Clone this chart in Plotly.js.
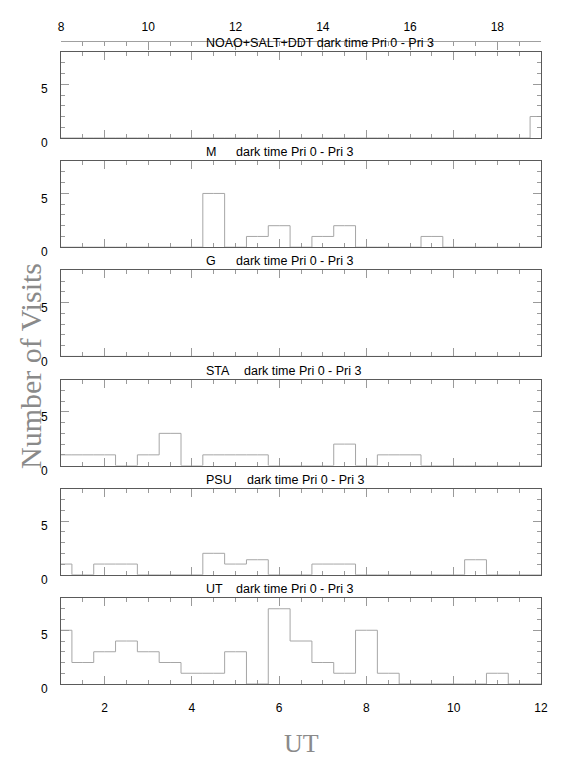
<!DOCTYPE html>
<html>
<head>
<meta charset="utf-8">
<script src="https://cdn.plot.ly/plotly-3.0.1.min.js"></script>
<style>html,body{margin:0;padding:0;background:#fff;}#chart{width:572px;height:762px;}</style>
</head>
<body>
<div id="chart"></div>
<script>
// Bin centres (UT hours), bins are 0.5 h wide
const binCenters = [1.0,1.5,2.0,2.5,3.0,3.5,4.0,4.5,5.0,5.5,6.0,6.5,7.0,7.5,8.0,8.5,9.0,9.5,10.0,10.5,11.0,11.5,12.0];

// Panel labels (top to bottom)
const panelLabels = ["NOAO+SALT+DDT", "M", "G", "STA", "PSU", "UT"];
const panelSuffix = "dark time Pri 0 - Pri 3";

// Number of visits per bin, one array per panel
const noaoVisits = [0,0,0,0,0,0,0,0,0,0,0,0,0,0,0,0,0,0,0,0,0,0,2];
const mVisits    = [0,0,0,0,0,0,0,5,0,1,2,0,1,2,0,0,0,1,0,0,0,0,0];
const gVisits    = [0,0,0,0,0,0,0,0,0,0,0,0,0,0,0,0,0,0,0,0,0,0,0];
const staVisits  = [1,1,1,0,1,3,0,1,1,1,0,0,0,2,0,1,1,0,0,0,0,0,0];
const psuVisits  = [1,0,1,1,0,0,0,2,1,1.4,0,0,1,1,0,0,0,0,0,1.4,0,0,0];
const utVisits   = [5,2,3,4,3,2,1,1,3,0,7,4,2,1,5,1,0,0,0,0,1,0,0];

// Axis ranges / ticks
const utRange = [1, 12];
const localRange = [8, 19];
const yRange = [0, 8];
const yTickVals = [0, 5];
const utTickVals = [2, 4, 6, 8, 10, 12];
const localTickVals = [8, 10, 12, 14, 16, 18];

const series = [noaoVisits, mVisits, gVisits, staVisits, psuVisits, utVisits];

// ---- geometry (pixels) ----
const W = 572, H = 762;
const mL = 61, mR = 31, mT = 41, mB = 78;
const plotH = H - mT - mB;
const plotBottomPx = H - mB;
const panelH = 86, panelStep = 109.2;
const toPaperY = px => (plotBottomPx - px) / plotH;
const toPaperX = px => (px - mL) / (W - mL - mR);

const frameColor = '#5a5a5a';
const tickColor = '#9a9a9a';
const stepColor = '#a6a6a6';
const tickFont = {family: 'Liberation Sans, Arial, sans-serif', size: 12, color: '#000'};
const titleFont = {family: 'Liberation Sans, Arial, sans-serif', size: 12.5, color: '#000'};

const traces = [];
const layout = {
  width: W, height: H,
  margin: {l: mL, r: mR, t: mT, b: mB, pad: 0},
  paper_bgcolor: '#fff', plot_bgcolor: '#fff',
  showlegend: false,
  annotations: [],
  font: tickFont
};

// left edge (px) of the suffix text per panel
const labelX = 203.5;
const suffixX = [null, 234.4, 234.4, 242.4, 245.3, 234.4];

for (let k = 0; k < 6; k++) {
  const n = 6 - k; // axis index; bottom panel is x/y (1)
  const xid = n === 1 ? 'x' : 'x' + n;
  const yid = n === 1 ? 'y' : 'y' + n;
  const xkey = n === 1 ? 'xaxis' : 'xaxis' + n;
  const ykey = n === 1 ? 'yaxis' : 'yaxis' + n;
  const bottomPx = plotBottomPx - (5 - k) * panelStep;
  const topPx = bottomPx - panelH;
  const dom = [toPaperY(bottomPx), toPaperY(topPx)];

  traces.push({
    type: 'scatter', mode: 'lines',
    x: binCenters, y: series[k],
    xaxis: xid, yaxis: yid,
    line: {shape: 'hvh', color: stepColor, width: 1},
    hoverinfo: 'skip'
  });

  layout[xkey] = {
    domain: [0, 1], anchor: yid, range: utRange,
    showgrid: false, zeroline: false,
    showline: true, linecolor: frameColor, linewidth: 1, mirror: 'ticks',
    ticks: 'inside', ticklen: 8, tickcolor: tickColor, tickwidth: 1,
    tickmode: 'array', tickvals: utTickVals,
    showticklabels: k === 5,
    ticklabelstandoff: 13,
    tickfont: tickFont,
    minor: {ticks: 'inside', dtick: 0.5, tick0: 0, ticklen: 4, tickcolor: tickColor, showgrid: false}
  };
  layout[ykey] = {
    domain: dom, anchor: xid, range: yRange,
    showgrid: false, zeroline: false,
    showline: true, linecolor: frameColor, linewidth: 1, mirror: 'ticks',
    ticks: 'inside', ticklen: 8, tickcolor: tickColor, tickwidth: 1,
    tickmode: 'array', tickvals: yTickVals,
    ticklabelshift: 5, ticklabelstandoff: 10,
    tickfont: tickFont,
    minor: {ticks: 'inside', dtick: 1, tick0: 0, ticklen: 4, tickcolor: tickColor, showgrid: false}
  };

  // panel title
  layout.annotations.push({
    xref: 'paper', yref: 'paper',
    x: toPaperX(labelX), y: toPaperY(topPx),
    xanchor: 'left', yanchor: 'bottom', yshift: 0,
    text: k === 0 ? panelLabels[k] + ' ' + panelSuffix : panelLabels[k],
    showarrow: false, font: titleFont
  });
  if (k > 0) {
    layout.annotations.push({
      xref: 'paper', yref: 'paper',
      x: toPaperX(suffixX[k]), y: toPaperY(topPx),
      xanchor: 'left', yanchor: 'bottom', yshift: 0,
      text: panelSuffix,
      showarrow: false, font: titleFont
    });
  }
}

// top axis in local time
traces.push({type: 'scatter', mode: 'lines', x: [], y: [], xaxis: 'x7', yaxis: 'y6', hoverinfo: 'skip'});
layout.xaxis7 = {
  overlaying: 'x6', anchor: 'free', position: 1, side: 'top',
  range: localRange, showgrid: false, zeroline: false,
  showline: true, linecolor: '#a0a0a0', linewidth: 1,
  ticks: 'inside', ticklen: 8, tickcolor: tickColor,
  tickmode: 'array', tickvals: localTickVals,
  ticklabelstandoff: 5, tickfont: tickFont,
  minor: {ticks: 'inside', dtick: 0.5, tick0: 0, ticklen: 4, tickcolor: tickColor, showgrid: false}
};

// Axis titles
layout.annotations.push({
  xref: 'paper', yref: 'paper', x: toPaperX(30), y: toPaperY(366),
  xanchor: 'center', yanchor: 'middle', textangle: -90,
  text: 'Number of Visits', showarrow: false,
  font: {family: 'Liberation Serif, DejaVu Serif, serif', size: 30, color: '#8a8a8a'}
});
layout.annotations.push({
  xref: 'paper', yref: 'paper', x: toPaperX(301), y: toPaperY(743),
  xanchor: 'center', yanchor: 'middle',
  text: 'UT', showarrow: false,
  font: {family: 'Liberation Serif, DejaVu Serif, serif', size: 26, color: '#8a8a8a'}
});

Plotly.newPlot('chart', traces, layout, {staticPlot: true, displayModeBar: false});
</script>
</body>
</html>
